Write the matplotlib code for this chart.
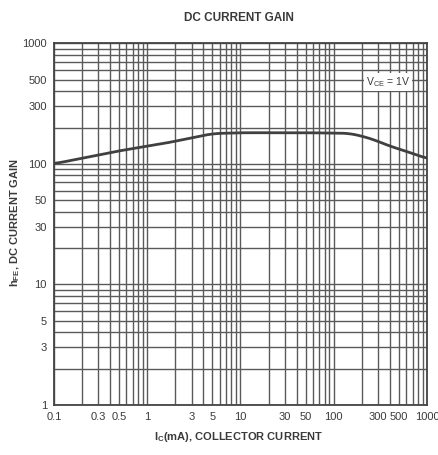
import numpy as np
import matplotlib
matplotlib.use("Agg")
import matplotlib.pyplot as plt
from matplotlib.ticker import FixedLocator, LogLocator, NullFormatter

# collector current (mA) vs DC current gain
ic_ma = [0.1, 0.5, 1.7, 5.0, 10, 50, 150, 250, 400, 700, 1000]
hfe = [100, 128, 150, 178, 181, 181, 179, 162, 140, 122, 110]

x_ticks = [0.1, 0.3, 0.5, 1, 3, 5, 10, 30, 50, 100, 300, 500, 1000]
x_labels = ["0.1", "0.3", "0.5", "1", "3", "5", "10", "30", "50", "100", "300", "500", "1000"]
y_ticks = [1, 3, 5, 10, 30, 50, 100, 300, 500, 1000]
y_labels = ["1", "3", "5", "10", "30", "50", "100", "300", "500", "1000"]

ink = "#3a3a3a"
plt.rcParams['font.family'] = ['Liberation Sans', 'DejaVu Sans']
plt.rcParams['mathtext.default'] = 'regular'

fig = plt.figure(figsize=(4.38, 4.55), dpi=100)
ax = fig.add_axes([0.123, 0.110, 0.852, 0.795])

ax.set_xscale("log")
ax.set_yscale("log")
ax.set_xlim(0.1, 1000)
ax.set_ylim(1, 1000)

# log graph paper grid
ax.xaxis.set_minor_locator(LogLocator(base=10, subs=np.arange(2, 10)))
ax.yaxis.set_minor_locator(LogLocator(base=10, subs=np.arange(2, 10)))
ax.xaxis.set_minor_formatter(NullFormatter())
ax.yaxis.set_minor_formatter(NullFormatter())
ax.grid(which="both", color="#5a5a5a", linewidth=1.0)
ax.set_axisbelow(True)

ax.xaxis.set_major_locator(FixedLocator(x_ticks))
ax.set_xticklabels(x_labels)
ax.yaxis.set_major_locator(FixedLocator(y_ticks))
ax.set_yticklabels(y_labels)
ax.tick_params(which="both", length=0, labelsize=8, colors=ink, pad=5)

for s in ax.spines.values():
    s.set_color("#444444")
    s.set_linewidth(1.3)

# smooth the curve in log space
lx = np.log10(ic_ma)
ly = np.log10(hfe)
xs = np.linspace(lx[0], lx[-1], 300)
ys = np.interp(xs, lx, ly)
k = np.ones(15) / 15
ys_s = np.convolve(np.pad(ys, 7, mode="edge"), k, mode="valid")
ax.plot(10 ** xs, 10 ** ys_s, color="#404040", linewidth=2.0, zorder=3)

ax.text(380, 480, "V$_{CE}$ = 1V", fontsize=7.5, color=ink, ha="center", va="center",
        bbox=dict(facecolor="white", edgecolor="none", pad=1.5), zorder=4)

fig.text(0.545, 0.96, "DC CURRENT GAIN", ha="center", va="center",
         fontsize=8.5, fontweight="bold", color=ink)
fig.text(0.545, 0.04, "I$_C$(mA), COLLECTOR CURRENT", ha="center", va="center",
         fontsize=8, fontweight="bold", color=ink)
fig.text(0.035, 0.51, "h$_{FE}$, DC CURRENT GAIN", ha="center", va="center",
         rotation=90, fontsize=8, fontweight="bold", color=ink)

fig.savefig("out.png", dpi=100, facecolor="white")
